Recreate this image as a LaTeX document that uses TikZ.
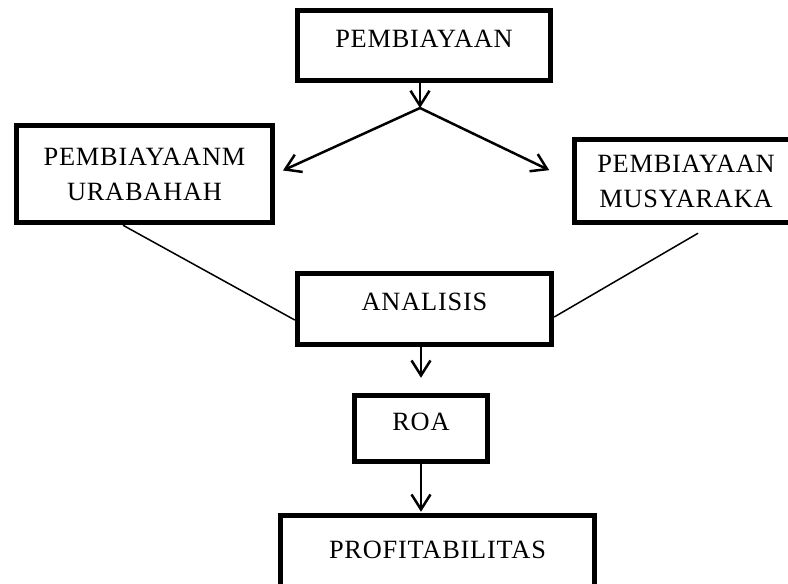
\documentclass[tikz,border=0pt]{standalone}
\usepackage{fontspec}
\setmainfont[LetterSpace=3]{Liberation Serif}
\usetikzlibrary{arrows.meta,calc}

\begin{document}
\begin{tikzpicture}[x=0.02cm, y=-0.02cm, font=\fontsize{15}{20}\selectfont,
  box/.style={draw, line width=0.11cm, inner sep=2pt, align=center},
  onebox/.style={box, text depth=8pt},
  flow/.style={-{Straight Barb[length=0.3cm, width=0.38cm]}, line width=0.05cm},
  link/.style={line width=0.03cm}]
  \useasboundingbox (0,0) rectangle (788,583);
  \clip (0,0) rectangle (788,583);
  \node[onebox, minimum width=5.06cm, minimum height=1.4cm] (pembiayaan) at (424,45.5) {PEMBIAYAAN};
  \node[box, minimum width=5.12cm, minimum height=1.94cm] (murabahah) at (144.5,174) {PEMBIAYAANM\\URABAHAH};
  \node[box, minimum width=4.46cm, minimum height=1.66cm] (musyaraka) at (686,181) {PEMBIAYAAN\\MUSYARAKA};
  \node[onebox, minimum width=5.08cm, minimum height=1.42cm] (analisis) at (424.5,309) {ANALISIS};
  \node[onebox, minimum width=2.66cm, minimum height=1.32cm] (roa) at (421,428.5) {ROA};
  \node[onebox, minimum width=6.28cm, minimum height=1.64cm] (profit) at (437.5,556.5) {PROFITABILITAS};
  \coordinate (split) at (420,108);
  \draw[flow] (pembiayaan.south -| split) -- (split);
  \draw[flow, shorten >=0.17cm] (split) -- (murabahah.east);
  \draw[flow, shorten >=0.5cm] (split) -- (musyaraka.west);
  \draw[link] ($(murabahah.south)+(-21.5,0)$) -- ($(analisis.west)+(0,11)$);
  \draw[link] ($(musyaraka.south)+(12,8)$) -- ($(analisis.east)+(0,8)$);
  \draw[flow, shorten >=0.3cm] (analisis.south -| roa.north) -- (roa.north);
  \draw[flow, shorten >=0.02cm] (roa.south) -- (profit.north -| roa.south);
\end{tikzpicture}
\end{document}
